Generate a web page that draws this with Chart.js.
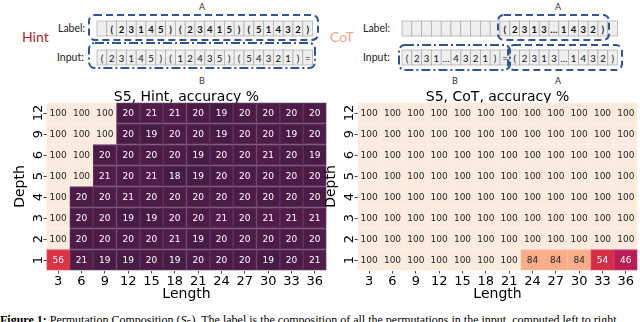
<!DOCTYPE html>
<html>
<head>
<meta charset="utf-8">
<script src="https://cdn.jsdelivr.net/npm/chart.js@4.4.0/dist/chart.umd.min.js"></script>
<style>
  html, body { margin: 0; padding: 0; background: #fff; }
  body { width: 640px; height: 322px; overflow: hidden; position: relative; }
  canvas { position: absolute; }
  #hintChart { left: 0px; top: 80px; }
  #cotChart { left: 311px; top: 80px; }
  #diagram { position: absolute; left: 0; top: 0; font-family: Lato, sans-serif; }
  #caption { position: absolute; left: 0; top: 313px; font: 12px "Liberation Serif", serif; white-space: nowrap; color: #000; }
</style>
</head>
<body>
<svg id="diagram" width="640" height="90"></svg>
<canvas id="hintChart" width="327" height="223"></canvas>
<canvas id="cotChart" width="327" height="223"></canvas>
<div id="caption"><b>Figure 1:</b> Permutation Composition (<i>S</i><sub>5</sub>). The label is the composition of all the permutations in the input, computed left to right.</div>
<script>
const lengthLabels = ['3', '6', '9', '12', '15', '18', '21', '24', '27', '30', '33', '36'];
const depthLabels = ['12', '9', '6', '5', '4', '3', '2', '1'];   // top to bottom

// accuracy %, rows from depth 12 (top) down to depth 1
const hintAcc = [
    [100, 100, 100, 20, 21, 21, 20, 19, 20, 20, 20, 20],
    [100, 100, 100, 20, 19, 20, 20, 19, 20, 20, 19, 20],
    [100, 100, 20, 20, 20, 20, 19, 20, 20, 21, 20, 19],
    [100, 100, 21, 20, 21, 18, 19, 20, 20, 20, 20, 20],
    [100, 20, 20, 21, 20, 20, 20, 20, 20, 20, 20, 20],
    [100, 20, 20, 19, 19, 20, 20, 21, 20, 21, 21, 21],
    [100, 20, 20, 20, 20, 21, 19, 20, 20, 20, 20, 20],
    [56, 21, 19, 19, 20, 19, 20, 20, 20, 19, 20, 21]
];
const cotAcc = [
    [100, 100, 100, 100, 100, 100, 100, 100, 100, 100, 100, 100],
    [100, 100, 100, 100, 100, 100, 100, 100, 100, 100, 100, 100],
    [100, 100, 100, 100, 100, 100, 100, 100, 100, 100, 100, 100],
    [100, 100, 100, 100, 100, 100, 100, 100, 100, 100, 100, 100],
    [100, 100, 100, 100, 100, 100, 100, 100, 100, 100, 100, 100],
    [100, 100, 100, 100, 100, 100, 100, 100, 100, 100, 100, 100],
    [100, 100, 100, 100, 100, 100, 100, 100, 100, 100, 100, 100],
    [100, 100, 100, 100, 100, 100, 100, 84, 84, 84, 54, 46]
];

// tokens of the little sequence diagrams
const hintLabelTokens = ['', '(', '2', '3', '1', '4', '5', ')', '(', '2', '3', '4', '1', '5', ')', '(', '5', '1', '4', '3', '2', ')'];
const hintInputTokens = ['(', '2', '3', '1', '4', '5', ')', '(', '1', '2', '4', '3', '5', ')', '(', '5', '4', '3', '2', '1', ')', '='];
const cotLabelTokens = ['', '', '', '', '', '', '', '', '', '', '(', '2', '3', '1', '3', '…', '1', '4', '3', '2', ')', ''];
const cotInputTokens = ['(', '2', '3', '1', '…', '4', '3', '2', '1', ')', '=', '(', '2', '3', '1', '3', '…', '1', '4', '3', '2', ')'];

// seaborn "rocket" colormap, roughly
const rocketStops = [
    [0, [3, 5, 26]], [1 / 7, [53, 25, 62]], [2 / 7, [112, 31, 87]], [3 / 7, [173, 23, 89]],
    [4 / 7, [225, 51, 66]], [5 / 7, [243, 118, 81]], [6 / 7, [246, 180, 143]], [1, [250, 235, 221]]
];
function rocket(t) {
    t = Math.max(0, Math.min(1, t));
    for (let i = 1; i < rocketStops.length; i++) {
        const [t1, c1] = rocketStops[i];
        const [t0, c0] = rocketStops[i - 1];
        if (t <= t1) {
            const f = (t - t0) / (t1 - t0);
            return c0.map((c, k) => c + (c1[k] - c) * f);
        }
    }
    return rocketStops[rocketStops.length - 1][1];
}
const rgb = c => `rgb(${c.map(Math.round).join(',')})`;
const lighten = (c, f) => c.map(v => v + (255 - v) * f);

// writes the % value in the middle of every cell
const cellText = {
    id: 'cellText',
    afterDatasetsDraw(chart) {
        const ctx = chart.ctx;
        ctx.save();
        ctx.font = '9px "DejaVu Sans"';
        ctx.textAlign = 'center';
        ctx.textBaseline = 'middle';
        chart.data.datasets.forEach((ds, i) => {
            chart.getDatasetMeta(i).data.forEach((bar, j) => {
                const v = ds.acc[j];
                const p = bar.getCenterPoint();
                ctx.fillStyle = v > 70 ? '#262626' : '#ffffff';
                ctx.fillText(String(v), p.x, p.y + 0.5);
            });
        });
        ctx.restore();
    }
};

const tickFont = { family: 'DejaVu Sans', size: 13 };
const labelFont = { family: 'DejaVu Sans', size: 14 };

function heatmap(id, title, rows) {
    const n = rows.length;
    const datasets = rows.map((row, r) => ({
        label: depthLabels[r],
        acc: row,
        data: row.map(() => 1),
        backgroundColor: row.map(v => rgb(rocket(v / 100))),
        borderColor: row.map(v => rgb(lighten(rocket(v / 100), 0.12))),
        borderWidth: 1,
        borderSkipped: false,
        barPercentage: 1,
        categoryPercentage: 1
    })).reverse();   // first dataset = bottom row (depth 1)

    new Chart(document.getElementById(id), {
        type: 'bar',
        data: { labels: lengthLabels, datasets: datasets },
        options: {
            responsive: false,
            animation: false,
            layout: { padding: { top: 11.3, left: 0, right: 0.5, bottom: 0 } },
            plugins: {
                legend: { display: false },
                tooltip: { enabled: false },
                title: {
                    display: true,
                    text: title,
                    fullSize: false,
                    color: '#000',
                    font: { family: 'DejaVu Sans', size: 14, weight: 'normal', lineHeight: 0.8 },
                    padding: 0
                }
            },
            scales: {
                x: {
                    stacked: true,
                    border: { display: false },
                    grid: { drawOnChartArea: false, offset: false, tickLength: 3, color: '#444' },
                    ticks: { color: '#000', font: tickFont, padding: 0, maxRotation: 0, autoSkip: false },
                    title: { display: true, text: 'Length', color: '#000', font: labelFont, padding: 0 },
                    afterFit: s => { s.height = 32.5; }
                },
                y: {
                    stacked: true,
                    min: 0,
                    max: n,
                    border: { display: false },
                    grid: { drawOnChartArea: false, tickLength: 3, color: '#444' },
                    afterBuildTicks: s => { s.ticks = depthLabels.map((d, i) => ({ value: i + 0.5 })); },
                    ticks: {
                        color: '#000',
                        font: tickFont,
                        autoSkip: false,
                        minRotation: 90,
                        maxRotation: 90,
                        crossAlign: 'center',
                        padding: -3,
                        callback: v => depthLabels[n - 1 - Math.floor(v)]
                    },
                    title: { display: true, text: 'Depth', color: '#000', font: labelFont, padding: { top: 12.3, bottom: 0 } },
                    afterFit: s => { s.width = 46.5; }
                }
            }
        },
        plugins: [cellText]
    });
}

heatmap('hintChart', 'S5, Hint, accuracy %', hintAcc);
heatmap('cotChart', 'S5, CoT, accuracy %', cotAcc);

// the small token diagrams above the heatmaps
const svg = document.getElementById('diagram');
const NS = 'http://www.w3.org/2000/svg';
function el(tag, attrs, text) {
    const e = document.createElementNS(NS, tag);
    for (const k in attrs) e.setAttribute(k, attrs[k]);
    if (text !== undefined) e.textContent = text;
    svg.appendChild(e);
    return e;
}
function strip(x0, y0, tokens, bold) {
    const w = 9.8;
    tokens.forEach((t, i) => {
        const x = x0 + i * w;
        el('rect', { x: x, y: y0, width: w, height: 15, fill: '#efefef', stroke: '#a9a9a9', 'stroke-width': 0.7 });
        if (t) el('text', { x: x + w / 2, y: y0 + 8, 'text-anchor': 'middle', 'dominant-baseline': 'central', 'font-size': 9.5, 'font-weight': bold ? 'bold' : 'normal', fill: '#111' }, t);
    });
}
function box(x, y, w, h, dash) {
    el('rect', { x: x, y: y, width: w, height: h, rx: 6, fill: 'none', stroke: '#2f5597', 'stroke-width': 2, 'stroke-dasharray': dash });
}
function txt(x, y, s, size, color, anchor) {
    el('text', { x: x, y: y, 'font-size': size, fill: color, 'text-anchor': anchor || 'start', 'dominant-baseline': 'central' }, s);
}
const dashA = '7 4';
const dashB = '9 3 2 3';

txt(22, 36, 'Hint', 14, '#a61e1e');
txt(58, 28, 'Label:', 10.5, '#222');
txt(57, 57, 'Input:', 10.5, '#222');
strip(97, 21, hintLabelTokens, true);
strip(97, 50, hintInputTokens, false);
box(89, 15, 229, 25, dashA);
box(89, 43, 226, 25, dashB);
txt(202, 6, 'A', 9, '#333', 'middle');
txt(202, 80, 'B', 9, '#333', 'middle');

txt(330, 36, 'CoT', 14, '#f4a582');
txt(363, 28, 'Label:', 10.5, '#222');
txt(363, 57, 'Input:', 10.5, '#222');
strip(402, 21, cotLabelTokens, true);
strip(402, 50, cotInputTokens, false);
box(498, 15, 111, 25, dashA);
box(399, 45, 111, 25, dashB);
box(508, 45, 114, 25, dashA);
txt(558, 6, 'A', 9, '#333', 'middle');
txt(455, 80, 'B', 9, '#333', 'middle');
txt(558, 80, 'A', 9, '#333', 'middle');
</script>
</body>
</html>
